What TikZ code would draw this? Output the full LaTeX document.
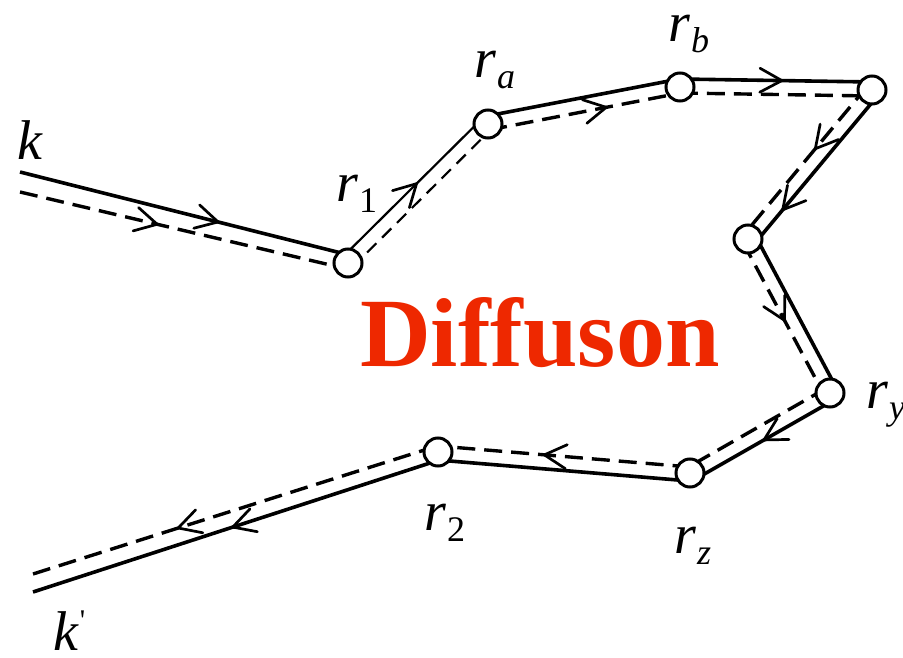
\documentclass[tikz,border=0pt]{standalone}
\usepackage{fontspec}
\setmainfont{Liberation Serif}
\usetikzlibrary{calc,decorations.markings}
\definecolor{diffred}{RGB}{238,40,0}
\newcommand\rlab[1]{\textit{r}\kern1pt\raisebox{-11pt}{\fontsize{36}{36}\selectfont #1}}
\tikzset{
  x=1pt, y=-1pt,
  vtx/.style={circle,draw,fill=white,line width=3pt,minimum size=28pt,inner sep=0pt},
  sol/.style={line width=3.6pt},
  das/.style={line width=3.4pt,dash pattern=on 18pt off 9pt},
  thinsol/.style={line width=2.2pt},
  thindas/.style={line width=2.2pt,dash pattern=on 13pt off 8pt},
  arr/.style={postaction={decorate},decoration={markings,mark=at position #1 with {\draw[solid,line width=2.7pt,line cap=round,line join=miter] (-22pt,-12pt) -- (0pt,0pt) -- (-22pt,12pt);}}},
  lbl/.style={font=\fontsize{56}{56}\selectfont,inner sep=0pt,anchor=base west},
}
\begin{document}
\begin{tikzpicture}
\useasboundingbox (0,0) rectangle (903,658);
% vertices
\coordinate (k1) at (20,172);
\coordinate (k2) at (20,192);
\coordinate (kp1) at (33,592);
\coordinate (kp2) at (33,574);
\coordinate (c1) at (348,263);
\coordinate (ca) at (488,124);
\coordinate (cb) at (680,87);
\coordinate (c4) at (872,90);
\coordinate (c5) at (748,239);
\coordinate (cy) at (830,393);
\coordinate (cz) at (690,473);
\coordinate (c2) at (438,452);
% incoming k
\draw[sol,arr=0.6] (k1) -- ($(c1)!8pt!-90:(k1)$);
\draw[das,arr=0.42] (k2) -- ($(c1)!6pt!90:(k2)$);
% r1 -> ra
\draw[thinsol,arr=0.53] ($(c1)!8pt!90:(ca)$) -- ($(ca)!8pt!-90:(c1)$);
\draw[thindas] ($(c1)!6pt!-90:(ca)$) -- ($(ca)!6pt!90:(c1)$);
% ra -> rb
\draw[sol] ($(ca)!8pt!90:(cb)$) -- ($(cb)!8pt!-90:(ca)$);
\draw[das,arr=0.61] ($(ca)!6pt!-90:(cb)$) -- ($(cb)!6pt!90:(ca)$);
% rb -> c4
\draw[sol,arr=0.53] ($(cb)!8pt!90:(c4)$) -- ($(c4)!8pt!-90:(cb)$);
\draw[das] ($(cb)!6pt!-90:(c4)$) -- ($(c4)!6pt!90:(cb)$);
% c4 -> c5
\draw[sol,arr=0.77] ($(c4)!8pt!90:(c5)$) -- ($(c5)!8pt!-90:(c4)$);
\draw[das,arr=0.42] ($(c4)!6pt!-90:(c5)$) -- ($(c5)!6pt!90:(c4)$);
% c5 -> ry
\draw[sol] ($(c5)!8pt!90:(cy)$) -- ($(cy)!8pt!-90:(c5)$);
\draw[das,arr=0.51] ($(c5)!6pt!-90:(cy)$) -- ($(cy)!6pt!90:(c5)$);
% ry -> rz
\draw[sol,arr=0.5] ($(cy)!8pt!90:(cz)$) -- ($(cz)!8pt!-90:(cy)$);
\draw[das] ($(cy)!6pt!-90:(cz)$) -- ($(cz)!6pt!90:(cy)$);
% rz -> r2
\draw[sol] ($(cz)!8pt!90:(c2)$) -- ($(c2)!8pt!-90:(cz)$);
\draw[das,arr=0.58] ($(cz)!6pt!-90:(c2)$) -- ($(c2)!6pt!90:(cz)$);
% r2 -> k'
\draw[sol,arr=0.51] ($(c2)!8pt!90:(kp1)$) -- (kp1);
\draw[das,arr=0.64] ($(c2)!6pt!-90:(kp2)$) -- (kp2);
% circles
\foreach \n in {c1,ca,cb,c4,c5,cy,cz,c2} \node[vtx] (v\n) at (\n) {};
% labels
\node[lbl] (lk) at (17,160) {\textit{k}};
\node[lbl] (l1) at (336,202) {\rlab{1}};
\node[lbl] (la) at (474,78) {\rlab{\textit{a}}};
\node[lbl] (lb) at (668,42) {\rlab{\textit{b}}};
\node[lbl] (ly) at (866,408) {\rlab{\textit{y}}};
\node[lbl] (lz) at (674,553) {\rlab{\textit{z}}};
\node[lbl] (l2) at (424,530) {\rlab{2}};
\node[lbl] (lkp) at (53,650) {\textit{k}\kern1pt\raisebox{20pt}{\fontsize{30}{30}\selectfont\textquotesingle}};
\node[font=\fontsize{98}{98}\selectfont\bfseries,text=diffred,inner sep=0pt,anchor=base west] (diff) at (360,366) {Diffuson};
\end{tikzpicture}
\end{document}
